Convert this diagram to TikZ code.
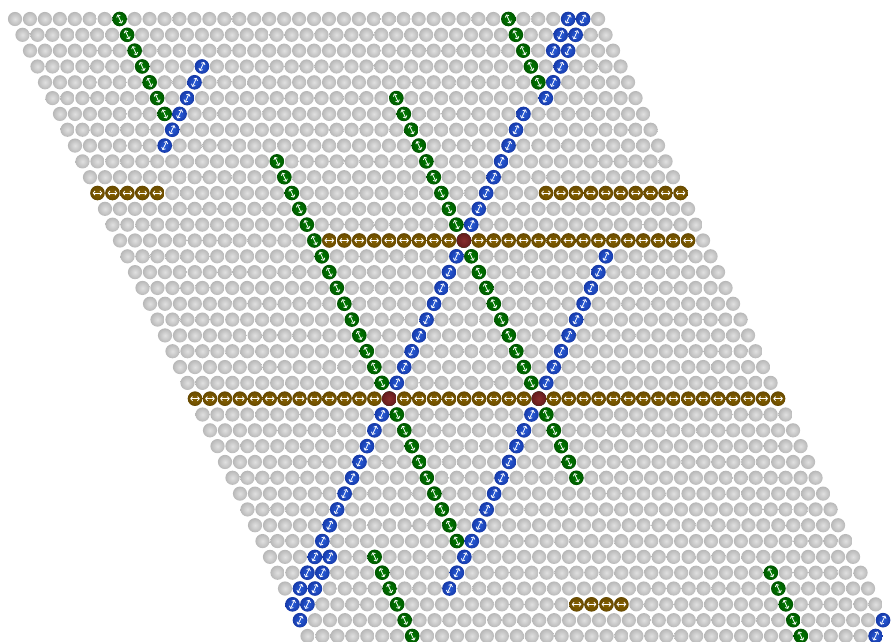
\documentclass[tikz,border=0pt]{standalone}
\usetikzlibrary{arrows.meta}
\definecolor{beadgrn}{RGB}{0,125,0}
\definecolor{beadgrnd}{RGB}{0,88,0}
\definecolor{beadblu}{RGB}{40,92,215}
\definecolor{beadblud}{RGB}{22,58,170}
\definecolor{beadbrn}{RGB}{135,98,0}
\definecolor{beadbrnd}{RGB}{104,74,0}
\definecolor{beadred}{RGB}{135,45,45}
\definecolor{beadredd}{RGB}{100,28,28}
\tikzset{
  bead/.style={circle, inner sep=0pt, minimum size=14.2pt, shading=radial},
  graybead/.style={bead, inner color=black!12, outer color=black!28},
  dblarr/.style={white, line width=0.8pt, {Straight Barb[length=1.8pt,width=4.2pt]}-{Straight Barb[length=1.8pt,width=4.2pt]}},
  greenbead/.style={bead, minimum size=14.6pt, inner color=beadgrn, outer color=beadgrnd,
    path picture={\draw[dblarr, shift={(path picture bounding box.center)}] (-2.1,-4.5) -- (2.1,4.5);}},
  bluebead/.style={bead, minimum size=14.6pt, inner color=beadblu, outer color=beadblud,
    path picture={\draw[dblarr, shift={(path picture bounding box.center)}] (2.1,-4.5) -- (-2.1,4.5);}},
  brownbead/.style={bead, minimum size=14.6pt, inner color=beadbrn, outer color=beadbrnd,
    path picture={\draw[dblarr, shift={(path picture bounding box.center)}] (-4.8,0) -- (4.8,0);}},
  redbead/.style={bead, minimum size=14.6pt, inner color=beadred, outer color=beadredd}
}
\begin{document}
\begin{tikzpicture}[x=1pt,y=-1pt]
\clip (0,0) rectangle (892,642);
\foreach \r in {0,...,39}
  \foreach \c in {0,...,39} {
    \ifnum\r\c=3939 \else
      \node[graybead] (n-\r-\c) at ({15+7.5*\r+14.95*\c},{19+15.82*\r}) {};
    \fi
  }
% green runs: column, first row, last row
\foreach \c/\ra/\rb in {7/0/6, 7/34/39, 33/0/4, 33/35/39, 13/9/33, 23/5/29}
  \foreach \r in {\ra,...,\rb}
    \node[greenbead] (g-\r-\c) at ({15+7.5*\r+14.95*\c},{19+15.82*\r}) {};
% blue runs: row+column, first row, last row
\foreach \s/\ra/\rb in {14/3/8, 38/0/5, 38/34/38, 37/0/2, 37/6/39, 47/15/36}
  \foreach \r in {\ra,...,\rb} {
    \pgfmathtruncatemacro\c{mod(\s-\r+40,40)}
    \node[bluebead] (b-\r-\c) at ({15+7.5*\r+14.95*\c},{19+15.82*\r}) {};
  }
% brown runs: row, first column, last column
\foreach \r/\ca/\cb in {11/0/4, 11/30/39, 14/14/38, 24/0/39, 37/19/22}
  \foreach \c in {\ca,...,\cb}
    \node[brownbead] (h-\r-\c) at ({15+7.5*\r+14.95*\c},{19+15.82*\r}) {};
\foreach \r/\c in {14/23, 24/13, 24/23}
  \node[redbead] (x-\r-\c) at ({15+7.5*\r+14.95*\c},{19+15.82*\r}) {};
\end{tikzpicture}
\end{document}
